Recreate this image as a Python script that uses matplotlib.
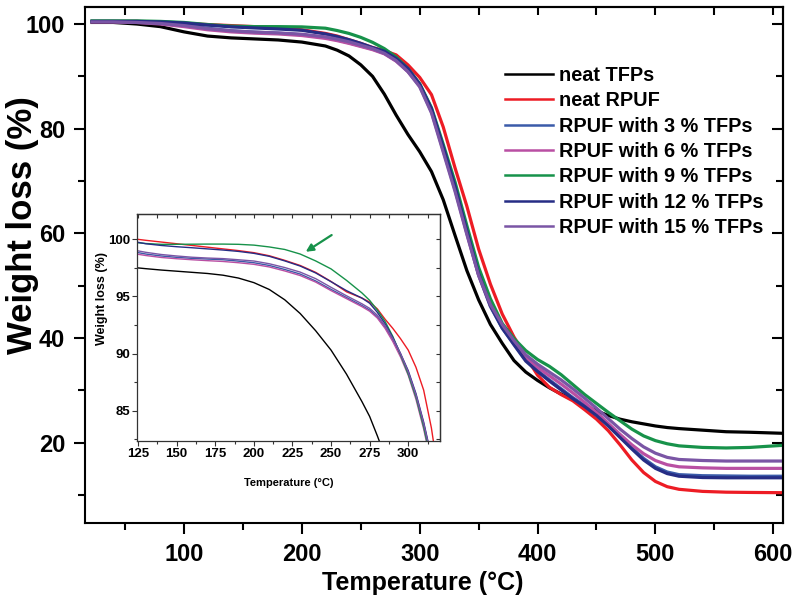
import matplotlib
matplotlib.use("Agg")
import matplotlib.pyplot as plt
from matplotlib.ticker import MultipleLocator

plt.rcParams['font.family'] = ['Liberation Sans', 'DejaVu Sans']
plt.rcParams['font.weight'] = 'bold'

# ---------------- data (main plot) ----------------
temp_main = [22, 40, 60, 80, 100, 120, 140, 160, 180, 200, 220, 230, 240, 250, 260, 270, 280,
             290, 300, 310, 320, 330, 340, 350, 360, 370, 380, 390, 400, 410, 420, 430, 440,
             450, 460, 470, 480, 490, 500, 510, 520, 540, 560, 580, 608]

neat_tfps = [100.3, 100.3, 100.0, 99.5, 98.5, 97.7, 97.35, 97.15, 96.95, 96.55, 95.8, 95.0,
             93.9, 92.2, 90.0, 86.6, 82.6, 78.9, 75.6, 71.8, 66.4, 59.6, 52.9, 47.3, 42.6,
             39.0, 35.7, 33.5, 31.9, 30.5, 29.3, 28.2, 27.1, 26.1, 25.2, 24.5, 24.0, 23.6,
             23.2, 22.9, 22.7, 22.4, 22.1, 22.0, 21.8]
neat_rpuf = [100.5, 100.5, 100.5, 100.3, 100.1, 99.9, 99.7, 99.5, 99.3, 98.9, 98.2, 97.7,
             97.0, 96.3, 95.5, 94.9, 94.1, 92.2, 89.8, 86.5, 80.3, 72.5, 65.2, 57.0, 50.3,
             44.6, 40.2, 36.5, 32.9, 30.6, 29.2, 28.0, 26.3, 24.5, 22.3, 19.6, 16.7, 14.3,
             12.6, 11.6, 11.1, 10.7, 10.55, 10.5, 10.45]
rpuf_3 = [100.5, 100.5, 100.4, 100.2, 99.8, 99.2, 98.7, 98.45, 98.25, 97.95, 97.4, 96.95,
          96.4, 95.8, 95.2, 94.4, 93.0, 91.0, 88.3, 83.5, 76.2, 68.6, 60.2, 52.0, 46.0,
          41.9, 38.9, 35.8, 33.8, 32.0, 30.3, 28.6, 27.1, 25.4, 23.4, 21.2, 19.0, 17.0,
          15.4, 14.4, 13.9, 13.7, 13.65, 13.6, 13.6]
rpuf_6 = [100.4, 100.4, 100.3, 100.0, 99.5, 98.9, 98.5, 98.25, 98.1, 97.8, 97.25, 96.82,
          96.3, 95.7, 95.1, 94.3, 92.9, 90.9, 88.1, 83.2, 75.8, 68.3, 60.0, 52.0, 46.2,
          42.3, 39.2, 36.3, 34.4, 32.8, 31.2, 29.5, 27.7, 25.8, 23.7, 21.6, 19.6, 17.9,
          16.6, 15.8, 15.4, 15.2, 15.1, 15.1, 15.1]
rpuf_9 = [100.6, 100.6, 100.6, 100.5, 100.3, 99.9, 99.6, 99.5, 99.5, 99.45, 99.2, 98.75,
          98.2, 97.45, 96.5, 95.3, 93.7, 91.5, 88.6, 84.0, 77.0, 69.8, 61.5, 53.5, 47.5,
          42.8, 39.9, 37.6, 35.9, 34.6, 33.0, 31.1, 29.2, 27.5, 25.8, 24.2, 22.6, 21.3,
          20.4, 19.8, 19.4, 19.1, 19.0, 19.1, 19.5]
rpuf_12 = [100.5, 100.5, 100.5, 100.4, 100.2, 99.8, 99.45, 99.25, 99.05, 98.8, 98.1, 97.6,
           97.0, 96.3, 95.5, 94.8, 93.4, 91.5, 88.5, 83.8, 76.5, 69.0, 60.5, 52.3, 46.2,
           41.9, 38.7, 35.6, 33.6, 31.8, 30.1, 28.4, 26.9, 25.2, 23.2, 21.0, 18.8, 16.7,
           15.1, 14.1, 13.6, 13.35, 13.3, 13.3, 13.3]
rpuf_15 = [100.4, 100.4, 100.3, 100.1, 99.7, 99.1, 98.7, 98.45, 98.3, 98.05, 97.55, 97.1,
           96.6, 95.95, 95.3, 94.4, 93.0, 90.9, 88.0, 83.0, 75.5, 68.0, 59.8, 52.0, 46.4,
           42.6, 39.5, 36.8, 35.0, 33.5, 32.0, 30.3, 28.5, 26.6, 24.6, 22.6, 20.8, 19.2,
           18.0, 17.2, 16.8, 16.6, 16.5, 16.5, 16.5]

# ---------------- data (inset) ----------------
temp_inset = [124, 130, 140, 150, 160, 170, 180, 190, 200, 210, 220, 230, 240, 250, 260,
              270, 275, 280, 285, 290, 295, 300, 305, 310, 315, 320]
inset_neat_tfps = [97.5, 97.42, 97.3, 97.2, 97.1, 97.0, 96.85, 96.6, 96.2, 95.6, 94.7, 93.5,
                   92.0, 90.3, 88.2, 85.8, 84.5, 82.8, 81.0, 79.0, 77.5, 76.0, 74.6, 72.2,
                   69.3, 66.4]
inset_neat_rpuf = [100.0, 99.9, 99.75, 99.6, 99.45, 99.3, 99.15, 99.0, 98.82, 98.55, 98.15,
                   97.7, 97.1, 96.3, 95.4, 94.85, 94.5, 93.9, 93.0, 92.2, 91.3, 90.3, 88.8,
                   86.8, 83.5, 79.0]
inset_rpuf_3 = [98.85, 98.7, 98.53, 98.41, 98.32, 98.26, 98.2, 98.08, 97.94, 97.7, 97.35,
                96.95, 96.35, 95.61, 94.9, 94.2, 93.8, 93.2, 92.3, 91.2, 89.9, 88.3, 86.3,
                83.8, 80.8, 77.3]
inset_rpuf_6 = [98.7, 98.57, 98.4, 98.29, 98.2, 98.12, 98.05, 97.94, 97.8, 97.57, 97.22,
                96.82, 96.25, 95.5, 94.8, 94.1, 93.7, 93.1, 92.2, 91.05, 89.7, 88.1, 86.0,
                83.4, 80.3, 76.8]
inset_rpuf_9 = [99.7, 99.62, 99.55, 99.55, 99.56, 99.57, 99.57, 99.55, 99.48, 99.32, 99.1,
                98.7, 98.1, 97.4, 96.4, 95.3, 94.65, 93.8, 92.8, 91.5, 89.9, 88.2, 86.2,
                83.6, 80.5, 77.0]
inset_rpuf_12 = [99.75, 99.6, 99.45, 99.34, 99.25, 99.15, 99.05, 98.93, 98.76, 98.5, 98.1,
                 97.65, 97.05, 96.28, 95.5, 94.85, 94.4, 93.6, 92.6, 91.4, 90.0, 88.5, 86.5,
                 84.0, 81.0, 77.5]
inset_rpuf_15 = [99.0, 98.85, 98.66, 98.53, 98.42, 98.35, 98.3, 98.2, 98.09, 97.85, 97.52,
                 97.12, 96.55, 95.79, 95.05, 94.35, 93.95, 93.35, 92.45, 91.3, 90.0, 88.4,
                 86.4, 83.9, 80.9, 77.4]

labels = ['neat TFPs', 'neat RPUF', 'RPUF with 3 % TFPs', 'RPUF with 6 % TFPs',
          'RPUF with 9 % TFPs', 'RPUF with 12 % TFPs', 'RPUF with 15 % TFPs']
colors = ['#000000', '#ED1C24', '#3B5BA9', '#B94FA3', '#17924A', '#262D85', '#7A55A5']

main_series = [neat_tfps, neat_rpuf, rpuf_3, rpuf_6, rpuf_9, rpuf_12, rpuf_15]
inset_series = [inset_neat_tfps, inset_neat_rpuf, inset_rpuf_3, inset_rpuf_6,
                inset_rpuf_9, inset_rpuf_12, inset_rpuf_15]

# ---------------- figure ----------------
fig = plt.figure(figsize=(7.96, 6.02), dpi=100)
ax = fig.add_axes([0.1072, 0.1307, 0.8761, 0.8581])

for y, lab, c in zip(main_series, labels, colors):
    ax.plot(temp_main, y, color=c, lw=2.3, label=lab, solid_joinstyle='round')

ax.set_xlim(16.3, 608)
ax.set_ylim(4.6, 103.3)
ax.set_xticks([100, 200, 300, 400, 500, 600])
ax.set_yticks([20, 40, 60, 80, 100])
ax.xaxis.set_minor_locator(MultipleLocator(50))
ax.yaxis.set_minor_locator(MultipleLocator(10))
for s in ax.spines.values():
    s.set_linewidth(1.5)
ax.tick_params(which='major', direction='out', length=8, width=1.5, labelsize=17)
ax.tick_params(which='minor', direction='out', length=5, width=1.5)
ax.tick_params(axis='x', which='major', pad=6.5)
ax.tick_params(axis='y', which='major', pad=6.5)
for t in ax.get_xticklabels() + ax.get_yticklabels():
    t.set_fontweight('bold')

sx = ax.secondary_xaxis('top')
sx.set_xticks([100, 200, 300, 400, 500, 600])
sx.xaxis.set_minor_locator(MultipleLocator(50))
sx.tick_params(which='major', direction='in', length=6, width=1.5, labeltop=False)
sx.tick_params(which='minor', direction='in', length=6, width=1.5)
sx.spines['top'].set_linewidth(1.5)
sy = ax.secondary_yaxis('right')
sy.set_yticks([20, 40, 60, 80, 100])
sy.yaxis.set_minor_locator(MultipleLocator(10))
sy.tick_params(which='major', direction='in', length=8, width=1.5, labelright=False)
sy.tick_params(which='minor', direction='in', length=5, width=1.5)
sy.spines['right'].set_linewidth(1.5)

ax.set_xlabel('Temperature (°C)', fontsize=18, fontweight='bold')
ax.xaxis.set_label_coords(0.484, -0.092)
ax.set_ylabel('Weight loss (%)', fontsize=25, fontweight='bold')
ax.yaxis.set_label_coords(-0.067, 0.577)

leg = ax.legend(loc='upper left', bbox_to_anchor=(505 / 796, 1 - 66 / 602),
                bbox_transform=fig.transFigure, frameon=False, borderpad=0,
                borderaxespad=0, handlelength=2.4, handletextpad=0.3,
                labelspacing=0.32, prop={'size': 14.3, 'weight': 'bold'})
for ln in leg.get_lines():
    ln.set_linewidth(1.8)

# ---------------- inset ----------------
axi = fig.add_axes([0.1725, 0.2674, 0.3803, 0.3771])
axi.set_facecolor('white')
for y, c in zip(inset_series, colors):
    axi.plot(temp_inset, y, color=c, lw=1.0)
axi.set_xlim(124.5, 320.6)
axi.set_ylim(82.35, 102.2)
axi.set_xticks([125, 150, 175, 200, 225, 250, 275, 300])
axi.set_yticks([85, 90, 95, 100])
axi.xaxis.set_minor_locator(MultipleLocator(12.5))
axi.yaxis.set_minor_locator(MultipleLocator(2.5))
for s in axi.spines.values():
    s.set_linewidth(0.9)
    s.set_color('#333333')
axi.tick_params(which='major', direction='out', length=3.5, width=0.8, labelsize=9.5, pad=1.5,
                color='#333333')
axi.tick_params(which='minor', direction='out', length=2, width=0.8, color='#333333')
for t in axi.get_xticklabels() + axi.get_yticklabels():
    t.set_fontweight('bold')
six = axi.secondary_xaxis('top')
six.set_xticks([125, 150, 175, 200, 225, 250, 275, 300])
six.xaxis.set_minor_locator(MultipleLocator(12.5))
six.tick_params(which='both', direction='in', length=3, width=0.8, labeltop=False, color='#333333')
six.spines['top'].set_linewidth(0.9)
six.spines['top'].set_color('#333333')
siy = axi.secondary_yaxis('right')
siy.set_yticks([85, 90, 95, 100])
siy.yaxis.set_minor_locator(MultipleLocator(2.5))
siy.tick_params(which='both', direction='in', length=3, width=0.8, labelright=False, color='#333333')
siy.spines['right'].set_linewidth(0.9)
siy.spines['right'].set_color('#333333')

axi.set_xlabel('Temperature (°C)', fontsize=8, fontweight='bold')
axi.xaxis.set_label_coords(0.501, -0.165)
axi.set_ylabel('Weight loss (%)', fontsize=9, fontweight='bold')
axi.yaxis.set_label_coords(-0.096, 0.626)

axi.annotate('', xy=(233.6, 98.9), xytext=(250.4, 100.36),
             arrowprops=dict(arrowstyle='-|>', color='#17924A', lw=1.6, mutation_scale=11,
                             shrinkA=0, shrinkB=0))

fig.savefig('out.png', dpi=100)
